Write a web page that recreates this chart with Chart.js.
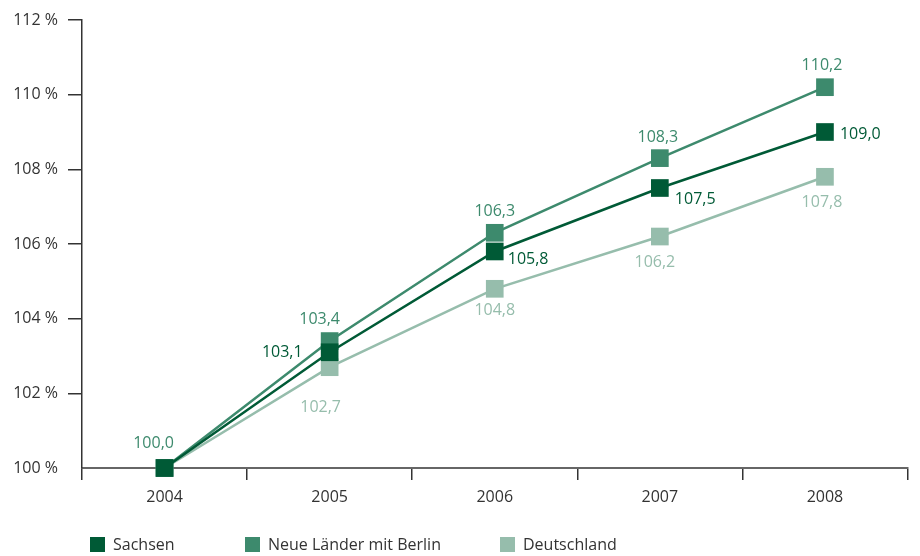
<!DOCTYPE html>
<html>
<head>
<meta charset="utf-8">
<script src="https://cdn.jsdelivr.net/npm/chart.js@4/dist/chart.umd.min.js"></script>
<style>
html,body{margin:0;padding:0;background:#fff;}
#wrap{width:920px;height:556px;position:relative;}
</style>
</head>
<body>
<div id="wrap"><canvas id="chart" width="920" height="556"></canvas></div>
<script>

/* DATA */

let years = ["2004","2005","2006","2007","2008"];

let sachsen = [100.0, 103.1, 105.8, 107.5, 109.0];
let neueLaender = [100.0, 103.4, 106.3, 108.3, 110.2];
let deutschland = [100.0, 102.7, 104.8, 106.2, 107.8];

let seriesNames = ["Sachsen","Neue Länder mit Berlin","Deutschland"];
let seriesColors = ["#005a36","#3d8a6d","#96bdac"];

let yTicks = [100,102,104,106,108,110,112];


/* LABEL PLACEMENT (offsets from each point, null = no label) */

let labelPlace = [
[null, {dx:-27,dy:0,align:"right"}, {dx:13,dy:8,align:"left"}, {dx:15,dy:11,align:"left"}, {dx:15,dy:2,align:"left"}],
[{dx:-11,dy:-25,align:"center"}, {dx:-10,dy:-22,align:"center"}, {dx:0,dy:-21,align:"center"}, {dx:-2,dy:-21,align:"center"}, {dx:-3,dy:-22,align:"center"}],
[null, {dx:-9,dy:40,align:"center"}, {dx:0,dy:22,align:"center"}, {dx:-5,dy:26,align:"center"}, {dx:-3,dy:26,align:"center"}]
];

let legendX = [90,245,500];

const FONT = "'Open Sans', 'DejaVu Sans', sans-serif";


/* PLUGINS */

const pointLabels = {
id:"pointLabels",
afterDatasetsDraw(c){
let ctx = c.ctx;
ctx.save();
ctx.font = "16px " + FONT;
ctx.textBaseline = "middle";
c.data.datasets.forEach((ds,di)=>{
let meta = c.getDatasetMeta(di);
meta.data.forEach((pt,i)=>{
let p = labelPlace[di][i];
if(!p) return;
ctx.fillStyle = seriesColors[di];
ctx.textAlign = p.align;
ctx.fillText(ds.data[i].toFixed(1).replace(".",","), pt.x + p.dx, pt.y + p.dy);
});
});
ctx.restore();
}
};

const bottomLegend = {
id:"bottomLegend",
afterDraw(c){
let ctx = c.ctx;
ctx.save();
ctx.font = "16px " + FONT;
ctx.textBaseline = "middle";
ctx.textAlign = "left";
c.data.datasets.forEach((ds,di)=>{
let x = legendX[di];
ctx.fillStyle = seriesColors[di];
ctx.fillRect(x, 537, 15, 15);
ctx.fillStyle = "#333";
ctx.fillText(ds.label, x + 23, 545);
});
ctx.restore();
}
};


/* CHART */

function mkSet(i, data){
return {
label:seriesNames[i],
data:data,
borderColor:seriesColors[i],
backgroundColor:seriesColors[i],
borderWidth:2.5,
pointStyle:"rect",
pointRadius:12.5,
pointHoverRadius:12.5,
pointBorderWidth:0,
tension:0,
clip:false
};
}

let chart = new Chart(document.getElementById("chart"),{
type:"line",
data:{
labels:years,
datasets:[
mkSet(0, sachsen),
mkSet(1, neueLaender),
mkSet(2, deutschland)
]
},
options:{
responsive:false,
animation:false,
events:[],
layout:{padding:{top:20,right:12,left:0,bottom:0}},
plugins:{legend:{display:false},tooltip:{enabled:false}},
scales:{
x:{
offset:true,
border:{color:"#666",width:2},
grid:{offset:true,drawOnChartArea:false,tickLength:12,color:"#333",lineWidth:1.5},
ticks:{color:"#333",font:{family:FONT,size:16},padding:8},
afterFit(s){ s.height = 88; }
},
y:{
min:100,
max:112,
border:{color:"#333",width:1.5},
grid:{drawOnChartArea:false,tickLength:14,lineWidth:1.5,
color:(g)=> g.tick && g.tick.value === 100 ? "rgba(0,0,0,0)" : "#333"},
afterBuildTicks(s){ s.ticks = yTicks.map(v=>({value:v})); },
ticks:{color:"#333",font:{family:FONT,size:16},padding:10,
callback:(v)=> v + " %"},
afterFit(s){ s.width = 82; }
}
}
},
plugins:[pointLabels,bottomLegend]
});

</script>
</body>
</html>
